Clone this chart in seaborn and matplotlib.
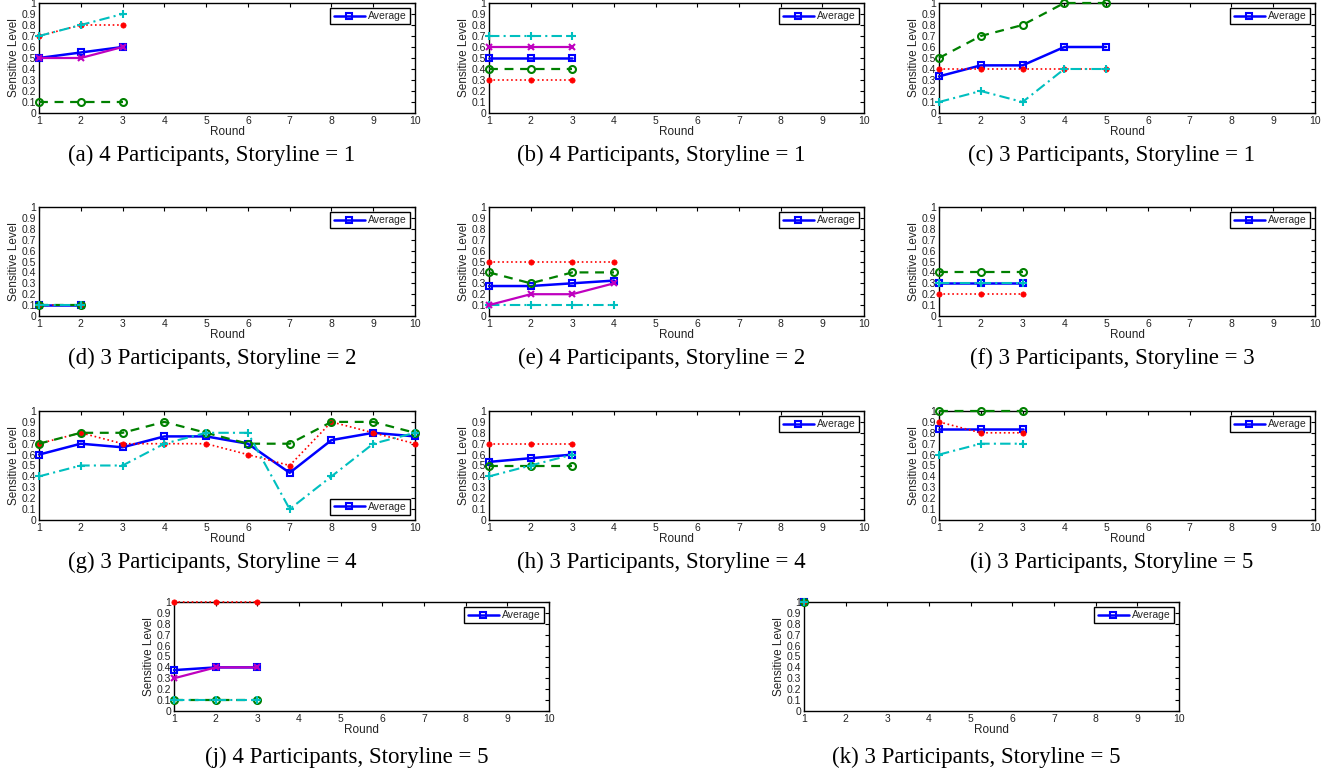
import matplotlib
matplotlib.use("Agg")
import matplotlib.pyplot as plt
import seaborn as sns

# --- Data: sensitive level per round, one list per participant + average ---
a_red = [0.7, 0.8, 0.8]
a_green = [0.1, 0.1, 0.1]
a_cyan = [0.7, 0.8, 0.9]
a_magenta = [0.5, 0.5, 0.6]
a_avg = [0.5, 0.55, 0.6]

b_red = [0.3, 0.3, 0.3]
b_green = [0.4, 0.4, 0.4]
b_cyan = [0.7, 0.7, 0.7]
b_magenta = [0.6, 0.6, 0.6]
b_avg = [0.5, 0.5, 0.5]

c_red = [0.4, 0.4, 0.4, 0.4, 0.4]
c_green = [0.5, 0.7, 0.8, 1.0, 1.0]
c_cyan = [0.1, 0.2, 0.1, 0.4, 0.4]
c_avg = [0.333, 0.433, 0.433, 0.6, 0.6]

d_red = [0.1, 0.1]
d_green = [0.1, 0.1]
d_cyan = [0.1, 0.1]
d_avg = [0.1, 0.1]

e_red = [0.5, 0.5, 0.5, 0.5]
e_green = [0.4, 0.3, 0.4, 0.4]
e_cyan = [0.1, 0.1, 0.1, 0.1]
e_magenta = [0.1, 0.2, 0.2, 0.3]
e_avg = [0.275, 0.275, 0.3, 0.325]

f_red = [0.2, 0.2, 0.2]
f_green = [0.4, 0.4, 0.4]
f_cyan = [0.3, 0.3, 0.3]
f_avg = [0.3, 0.3, 0.3]

g_red = [0.7, 0.8, 0.7, 0.7, 0.7, 0.6, 0.5, 0.9, 0.8, 0.7]
g_green = [0.7, 0.8, 0.8, 0.9, 0.8, 0.7, 0.7, 0.9, 0.9, 0.8]
g_cyan = [0.4, 0.5, 0.5, 0.7, 0.8, 0.8, 0.1, 0.4, 0.7, 0.8]
g_avg = [0.6, 0.7, 0.667, 0.767, 0.767, 0.7, 0.433, 0.733, 0.8, 0.767]

h_red = [0.7, 0.7, 0.7]
h_green = [0.5, 0.5, 0.5]
h_cyan = [0.4, 0.5, 0.6]
h_avg = [0.533, 0.567, 0.6]

i_red = [0.9, 0.8, 0.8]
i_green = [1.0, 1.0, 1.0]
i_cyan = [0.6, 0.7, 0.7]
i_avg = [0.833, 0.833, 0.833]

j_red = [1.0, 1.0, 1.0]
j_green = [0.1, 0.1, 0.1]
j_cyan = [0.1, 0.1, 0.1]
j_magenta = [0.3, 0.4, 0.4]
j_avg = [0.375, 0.4, 0.4]

k_red = [1.0]
k_green = [1.0]
k_cyan = [1.0]
k_avg = [1.0]

captions = [
    "(a) 4 Participants, Storyline = 1",
    "(b) 4 Participants, Storyline = 1",
    "(c) 3 Participants, Storyline = 1",
    "(d) 3 Participants, Storyline = 2",
    "(e) 4 Participants, Storyline = 2",
    "(f) 3 Participants, Storyline = 3",
    "(g) 3 Participants, Storyline = 4",
    "(h) 3 Participants, Storyline = 4",
    "(i) 3 Participants, Storyline = 5",
    "(j) 4 Participants, Storyline = 5",
    "(k) 3 Participants, Storyline = 5",
]

x_ticks = list(range(1, 11))
y_ticks = [0, 0.1, 0.2, 0.3, 0.4, 0.5, 0.6, 0.7, 0.8, 0.9, 1]
y_ticklabels = ["0", "0.1", "0.2", "0.3", "0.4", "0.5", "0.6", "0.7", "0.8", "0.9", "1"]

panels = [
    (a_avg, {"red": a_red, "green": a_green, "cyan": a_cyan, "magenta": a_magenta}),
    (b_avg, {"red": b_red, "green": b_green, "cyan": b_cyan, "magenta": b_magenta}),
    (c_avg, {"red": c_red, "green": c_green, "cyan": c_cyan}),
    (d_avg, {"red": d_red, "green": d_green, "cyan": d_cyan}),
    (e_avg, {"red": e_red, "green": e_green, "cyan": e_cyan, "magenta": e_magenta}),
    (f_avg, {"red": f_red, "green": f_green, "cyan": f_cyan}),
    (g_avg, {"red": g_red, "green": g_green, "cyan": g_cyan}),
    (h_avg, {"red": h_red, "green": h_green, "cyan": h_cyan}),
    (i_avg, {"red": i_red, "green": i_green, "cyan": i_cyan}),
    (j_avg, {"red": j_red, "green": j_green, "cyan": j_cyan, "magenta": j_magenta}),
    (k_avg, {"red": k_red, "green": k_green, "cyan": k_cyan}),
]

# --- Styles (MATLAB-like) ---
RED, GREEN, CYAN, MAGENTA, BLUE = (1, 0, 0), (0, 0.5, 0), (0, 0.75, 0.75), (0.75, 0, 0.75), (0, 0, 1)
styles = {
    "red": dict(color=RED, linestyle=":", linewidth=1.2, marker="o", markersize=3.8,
                markerfacecolor=RED, markeredgecolor=RED, markeredgewidth=0.5),
    "green": dict(color=GREEN, linestyle=(0, (4, 3)), linewidth=1.6, marker="o", markersize=5,
                  markerfacecolor="none", markeredgecolor=GREEN, markeredgewidth=1.5),
    "cyan": dict(color=CYAN, linestyle=(0, (5, 2, 1, 2)), linewidth=1.5, marker="+", markersize=5.5,
                 markerfacecolor=CYAN, markeredgecolor=CYAN, markeredgewidth=1.5),
    "magenta": dict(color=MAGENTA, linestyle="-", linewidth=1.6, marker="x", markersize=4,
                    markerfacecolor=MAGENTA, markeredgecolor=MAGENTA, markeredgewidth=1.5),
}
avg_style = dict(color=BLUE, linestyle="-", linewidth=1.8, marker="s", markersize=5,
                 markerfacecolor="none", markeredgecolor=BLUE, markeredgewidth=1.5)

sns.set_theme(style="white")
plt.rcParams["font.family"] = ["Liberation Sans", "DejaVu Sans"]

W, H = 1332, 776
fig = plt.figure(figsize=(W / 100, H / 100), dpi=100)

# axes boxes in pixels: (left, top, right, bottom)
cols = [(39, 415), (489, 864), (939, 1315)]
rows = [(3, 113), (207, 316), (411, 520)]
boxes = [(c[0], r[0], c[1], r[1]) for r in rows for c in cols]
boxes += [(174, 602, 549, 711), (804, 602, 1179, 711)]
caption_y = [155, 155, 155, 358, 358, 358, 562, 562, 562, 757, 757]

for idx, (avg, series) in enumerate(panels):
    l, t, r, b = boxes[idx]
    ax = fig.add_axes([l / W, 1 - b / H, (r - l) / W, (b - t) / H])

    rounds = list(range(1, len(avg) + 1))
    sns.lineplot(x=rounds, y=avg, ax=ax, clip_on=False, zorder=3, **avg_style)
    for name, vals in series.items():
        sns.lineplot(x=rounds, y=vals, ax=ax, clip_on=False, zorder=3, **styles[name])

    ax.set_xlim(1, 10)
    ax.set_ylim(0, 1)
    ax.set_xticks(x_ticks)
    ax.set_yticks(y_ticks)
    ax.set_yticklabels(y_ticklabels)
    ax.tick_params(direction="in", top=True, right=True, length=3, width=0.8,
                   labelsize=7.5, pad=2, colors="black", labelcolor="#222222")
    for sp in ax.spines.values():
        sp.set_color("black")
        sp.set_linewidth(1.0)
    ax.set_xlabel("Round", fontsize=8.5, labelpad=0, color="#222222")
    ax.set_ylabel("Sensitive Level", fontsize=8.5, labelpad=1, color="#222222")

    loc = "lower right" if idx == 6 else "upper right"
    leg = ax.legend(handles=[ax.lines[0]], labels=["Average"], loc=loc, fontsize=7.5,
                    frameon=True, fancybox=False, framealpha=1, edgecolor="black",
                    handlelength=3.0, borderpad=0.3, handletextpad=0.3,
                    borderaxespad=0.5)
    leg.get_frame().set_linewidth(1.0)

    cx = (l + r) / 2 - 15
    fig.text(cx / W, 1 - caption_y[idx] / H, captions[idx], ha="center", va="center",
             fontsize=16.5, family=["Liberation Serif", "DejaVu Serif"], color="black")

fig.savefig("out.png", dpi=100)
